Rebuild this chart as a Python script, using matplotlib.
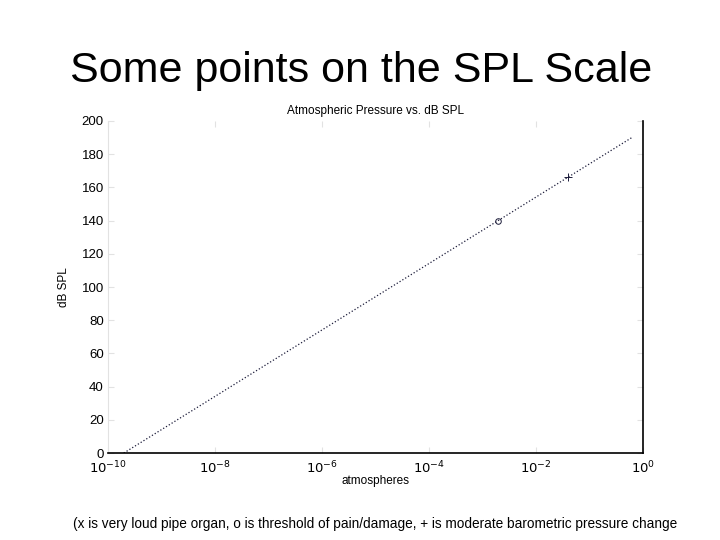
import matplotlib
matplotlib.use("Agg")
import matplotlib.pyplot as plt
from matplotlib import font_manager

plt.rcParams["font.family"] = ["Liberation Sans", "DejaVu Sans"]

# values (pressure in atm, level in dB SPL)
line_atm = [1.97e-10, 0.62]
line_db = [0, 190]
pain_atm = [1.97e-3]
pain_db = [140]
baro_atm = [0.039]
baro_db = [166]

x_ticks = [1e-10, 1e-8, 1e-6, 1e-4, 1e-2, 1e0]
x_tick_labels = ["$10^{-10}$", "$10^{-8}$", "$10^{-6}$", "$10^{-4}$", "$10^{-2}$", "$10^{0}$"]
y_ticks = [0, 20, 40, 60, 80, 100, 120, 140, 160, 180, 200]

caption = ("(x is very loud pipe organ, o is threshold of pain/damage, + is moderate "
           "barometric pressure change")

line_color = "#1c1c3a"
faint = "#e2e2e2"

# narrow face for the caption if it's around, else plain
names = {f.name for f in font_manager.fontManager.ttflist}
cap_family = ["Liberation Sans Narrow"] if "Liberation Sans Narrow" in names else ["Liberation Sans"]
cap_size = 12.3 if cap_family[0] == "Liberation Sans Narrow" else 9.8

fig = plt.figure(figsize=(7.2, 5.4), dpi=100)
fig.text(0.502, 0.848, "Some points on the SPL Scale", ha="center", va="baseline", fontsize=31)
fig.text(0.101, 0.022, caption, ha="left", va="baseline", fontsize=cap_size, family=cap_family)

ax = fig.add_axes([0.15, 0.161, 0.743, 0.615])
ax.plot(line_atm, line_db, linestyle=":", color=line_color, linewidth=0.9)
ax.plot(pain_atm, pain_db, marker="o", markersize=4, markerfacecolor="none",
        markeredgecolor=line_color, markeredgewidth=0.7, linestyle="none")
ax.plot(baro_atm, baro_db, marker="+", markersize=6, color=line_color,
        markeredgewidth=0.7, linestyle="none")

ax.set_xscale("log")
ax.set_xlim(1e-10, 1e0)
ax.set_ylim(0, 200)
ax.set_xticks(x_ticks)
ax.set_xticklabels(x_tick_labels)
ax.minorticks_off()
ax.set_yticks(y_ticks)
ax.tick_params(direction="in", length=4, color=faint, labelsize=9.5, top=True, right=True, pad=3)
ax.tick_params(axis="x", pad=5)

ax.spines["bottom"].set_color("black")
ax.spines["right"].set_color("black")
ax.spines["left"].set_color(faint)
ax.spines["top"].set_visible(False)
for s in ("bottom", "right"):
    ax.spines[s].set_linewidth(1.2)

ax.set_title("Atmospheric Pressure vs. dB SPL", fontsize=8.5, pad=5)
ax.set_xlabel("atmospheres", fontsize=8.5, labelpad=-1)
ax.set_ylabel("dB SPL", fontsize=8.5, labelpad=8)

fig.savefig("out.png", dpi=100)
